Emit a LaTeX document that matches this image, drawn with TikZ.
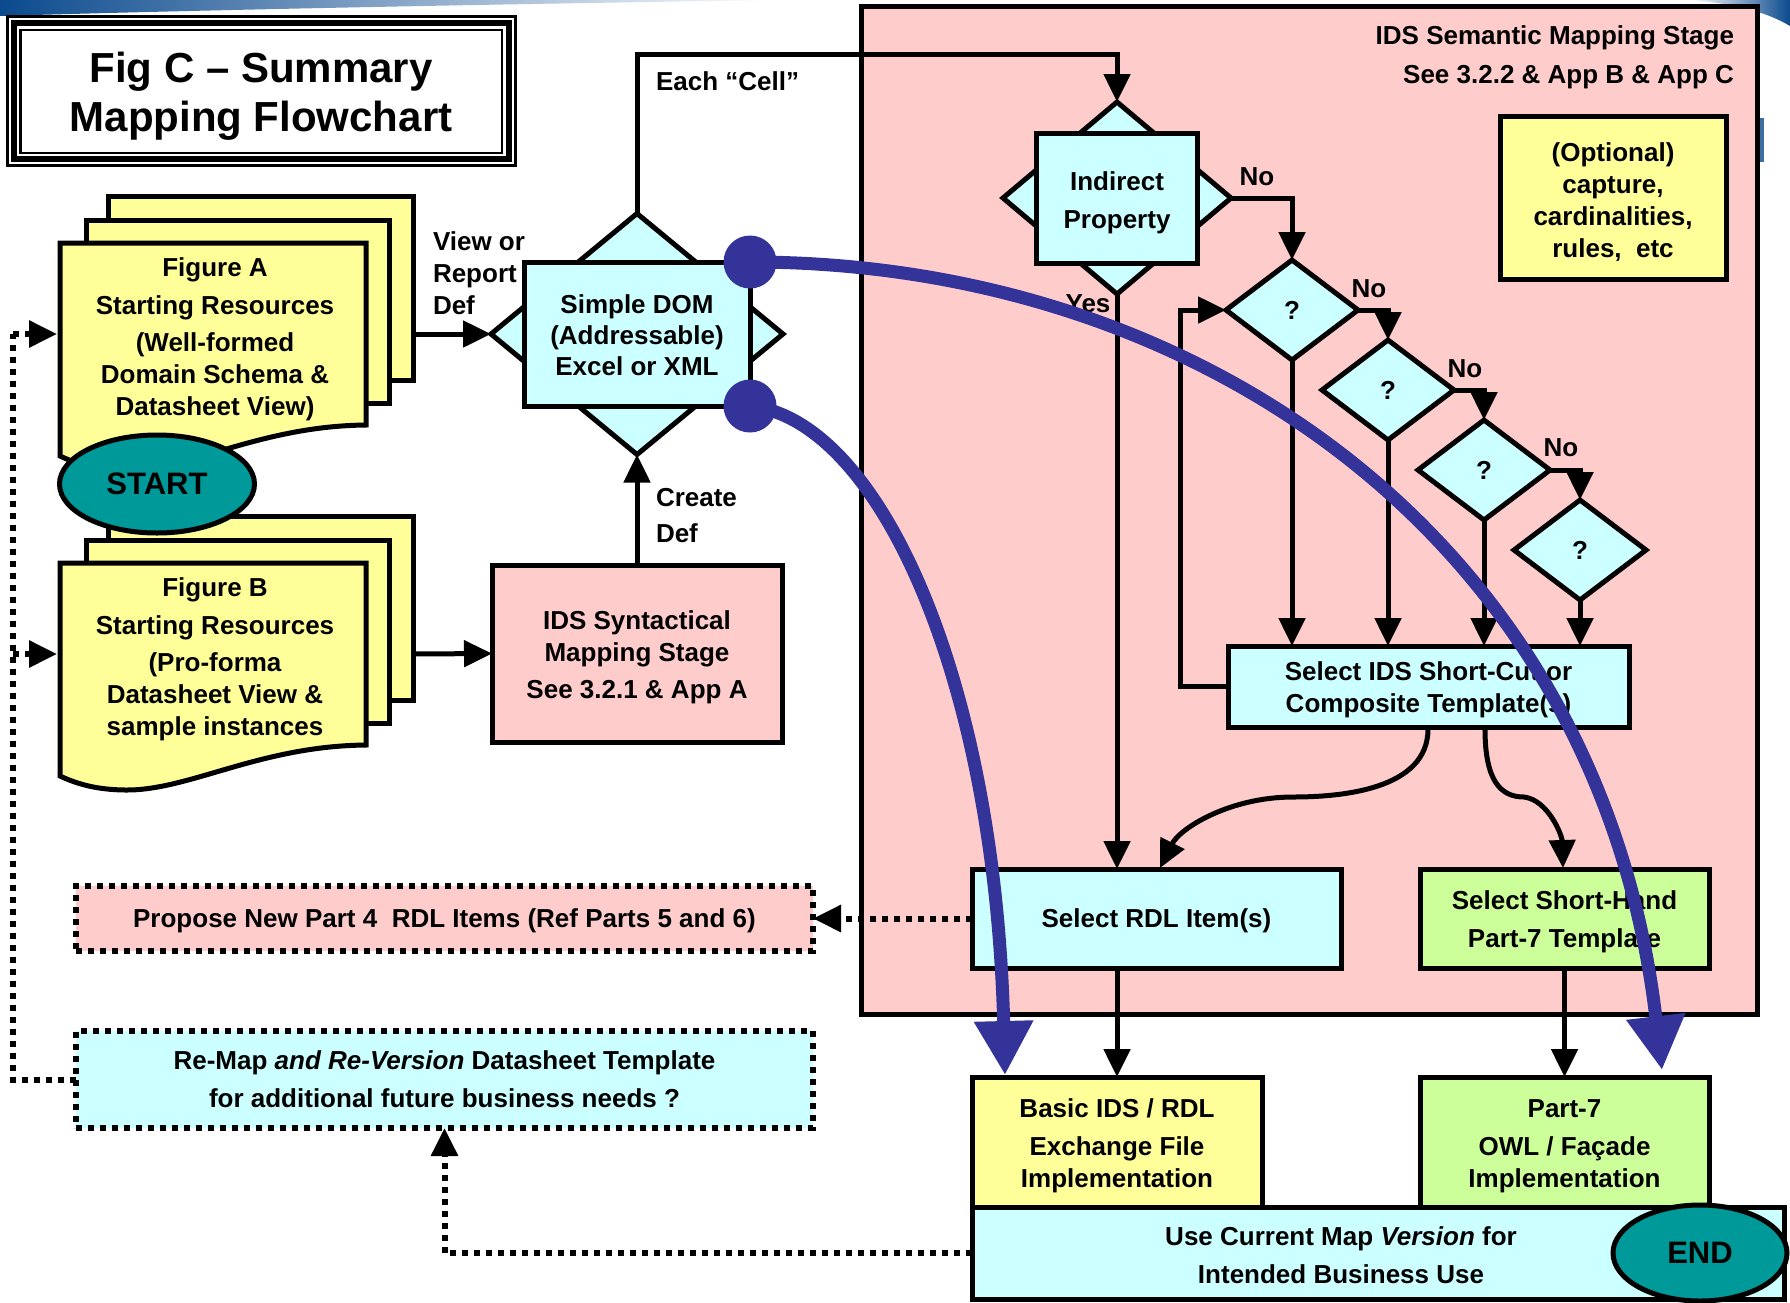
\documentclass[tikz,border=0pt]{standalone}
\usepackage{fontspec}
\setmainfont{Liberation Sans}
\usetikzlibrary{arrows.meta,shapes.geometric}
\definecolor{cyanf}{HTML}{CCFFFF}
\definecolor{yelf}{HTML}{FFFF99}
\definecolor{pinkf}{HTML}{FFCCCC}
\definecolor{greenf}{HTML}{CCFF99}
\definecolor{tealf}{HTML}{009999}
\definecolor{bluec}{HTML}{333399}
\definecolor{bannerblue}{HTML}{0B4A8E}
\newcommand\myst[1]{\rule{0pt}{#1pt}}
\begin{document}
\begin{tikzpicture}[x=1pt,y=-1pt,
  every node/.style={inner sep=0pt, outer sep=0pt},
  txt/.style={font=\fontsize{26}{32}\selectfont\bfseries, align=center},
  bx/.style={draw, line width=5pt, rectangle, txt},
  dia/.style={draw, line width=5pt, diamond, fill=cyanf, inner sep=0pt},
  tip/.style={-{Triangle[length=28pt,width=26pt]}},
  arr/.style={line width=5pt, tip},
  dotln/.style={line width=6pt, dash pattern=on 6pt off 6pt},
  dotbox/.style={draw, line width=6pt, dash pattern=on 6pt off 6pt, rectangle, txt},
  sheet/.style={draw, line width=5pt, fill=yelf, line join=miter},
  oval/.style={draw, line width=5pt, ellipse, fill=tealf, font=\fontsize{31}{31}\selectfont\bfseries},
  bluearr/.style={draw=bluec, line width=13pt, -{Triangle[length=54pt,width=56pt]}},
  bluedot/.style={circle, fill=bluec, minimum size=53pt}
]
\useasboundingbox (0,0) rectangle (1790,1302);
\fill[white] (0,0) rectangle (1790,1302);

% slide banner swoosh
\shade[left color=bannerblue, right color=white]
  (0,0) -- (780,0) .. controls (500,4) and (200,10) .. (0,16) -- cycle;
\shade[left color=white, right color=bannerblue]
  (1690,0) -- (1790,0) -- (1790,26) .. controls (1770,14) and (1740,4) .. (1690,0) -- cycle;
\fill[bannerblue!80] (1758,118) rectangle (1764,162);

% title
\draw[line width=3pt] (7,16) rectangle (515,165);
\draw[line width=6pt] (14,23) rectangle (509,159);
\draw[line width=2.5pt] (20.5,30) rectangle (502,153);
\node[font=\fontsize{42}{49}\selectfont\bfseries, align=center] (title) at (261,96.5)
  {Fig C -- Summary\\Mapping Flowchart};

% semantic stage container
\node[draw, line width=5pt, fill=pinkf, minimum width=896pt, minimum height=1008pt] (sem) at (1309,510) {};
\node[txt, anchor=east, font=\fontsize{26}{39}\selectfont\bfseries, align=right] (semlbl) at (1734,57.5)
  {IDS Semantic Mapping Stage\\See 3.2.2 \& App B \& App C};

% Figure B stack
\draw[sheet] (108,516) rectangle (413,700);
\draw[sheet] (86,540) rectangle (389,723);
\draw[sheet] (60,563) -- (366,563) -- (366,745) .. controls (260,746) and (190,790) .. (127,790)
  .. controls (95,790) and (75,783) .. (60,776) -- cycle;
\node[txt] (figB) at (215,659) {Figure B\\[6pt]Starting Resources\\[5pt](Pro-forma\\Datasheet View \&\\sample instances};
\coordinate (docBin) at (57,654);
\coordinate (docBout) at (413,654);

% Figure A stack
\draw[sheet] (108,196) rectangle (413,380);
\draw[sheet] (86,220) rectangle (389,403);
\draw[sheet] (60,243) -- (366,243) -- (366,425) .. controls (260,426) and (190,470) .. (127,470)
  .. controls (95,470) and (75,463) .. (60,456) -- cycle;
\node[txt] (figA) at (215,339) {Figure A\\[6pt]Starting Resources\\[5pt](Well-formed\\Domain Schema \&\\Datasheet View)};
\coordinate (docAin) at (57,334);
\coordinate (docAout) at (413,334);

\node[oval, minimum width=195pt, minimum height=98pt] (start) at (157,484) {START};

% Simple DOM
\node[dia, minimum width=292pt, minimum height=241pt] (domd) at (637,334) {};
\node[bx, fill=cyanf, minimum width=226pt, minimum height=144pt, font=\fontsize{26}{31}\selectfont\bfseries] (dom) at (637,334)
  {\myst{22}Simple DOM\\(Addressable)\\Excel or XML};

% IDS syntactical
\node[bx, fill=pinkf, minimum width=290pt, minimum height=177pt] (syn) at (637,653.5)
  {\myst{26}IDS Syntactical\\Mapping Stage\\[5pt]See 3.2.1 \& App A};

% labels left
\node[txt, anchor=west, align=left] (viewlbl) at (433,273) {View or\\Report\\Def};
\node[txt, anchor=west, align=left, font=\fontsize{26}{36}\selectfont\bfseries] (createlbl) at (656,516) {Create\\Def};
\node[txt, anchor=west] (celllbl) at (656,81) {Each “Cell”};

% optional box
\node[bx, fill=yelf, minimum width=226pt, minimum height=163pt] (opt) at (1613,197.5)
  {\myst{28}(Optional)\\capture,\\cardinalities,\\rules,\ \ etc};

% Indirect property
\node[dia, minimum width=228pt, minimum height=192pt] (indd) at (1117,198) {};
\node[bx, fill=cyanf, minimum width=161pt, minimum height=130pt, font=\fontsize{26}{38}\selectfont\bfseries] (ind) at (1117,198)
  {\myst{28}Indirect\\Property};

% question diamonds
\node[dia, minimum width=132pt, minimum height=100pt, txt] (q1) at (1292,310) {?};
\node[dia, minimum width=132pt, minimum height=100pt, txt] (q2) at (1388,390) {?};
\node[dia, minimum width=132pt, minimum height=100pt, txt] (q3) at (1484,470) {?};
\node[dia, minimum width=132pt, minimum height=100pt, txt] (q4) at (1580,550) {?};

\node[txt] (no0) at (1257,177) {No};
\node[txt] (no1) at (1369,289) {No};
\node[txt] (no2) at (1465,369) {No};
\node[txt] (no3) at (1561,448) {No};
\node[txt] (yes) at (1088,304) {Yes};

% template boxes
\node[bx, fill=cyanf, minimum width=401pt, minimum height=81pt] (sic) at (1428.5,686.5)
  {\myst{25}Select IDS Short-Cut or\\Composite Template(s)};
\node[bx, fill=cyanf, minimum width=369pt, minimum height=99pt] (rdl) at (1156.5,918.5)
  {\myst{23}Select RDL Item(s)};
\node[bx, fill=greenf, minimum width=289pt, minimum height=99pt, font=\fontsize{26}{38}\selectfont\bfseries] (ssh) at (1564.5,918.5)
  {\myst{25}Select Short-Hand\\Part-7 Template};

% bottom boxes
\node[bx, fill=yelf, minimum width=290pt, minimum height=130pt] (basic) at (1117,1142)
  {\myst{26}Basic IDS / RDL\\[6pt]Exchange File\\Implementation};
\node[bx, fill=greenf, minimum width=289pt, minimum height=130pt] (p7) at (1564.5,1142)
  {\myst{26}Part-7\\[6pt]OWL / Façade\\Implementation};
\node[bx, fill=cyanf, minimum width=812pt, minimum height=92pt] (use) at (1378,1253) {};
\node[txt, font=\fontsize{26}{38}\selectfont\bfseries] (usetxt) at (1341,1255)
  {Use Current Map \textit{Version} for\\Intended Business Use};
\node[oval, minimum width=174pt, minimum height=96pt] (end) at (1700,1253) {END};

% dotted boxes
\node[dotbox, fill=pinkf, minimum width=737pt, minimum height=65pt] (prop) at (444.5,918.5)
  {\myst{23}Propose New Part 4\ \ RDL Items (Ref Parts 5 and 6)};
\node[dotbox, fill=cyanf, minimum width=737pt, minimum height=97pt, font=\fontsize{26}{38}\selectfont\bfseries] (remap) at (444.5,1079.5)
  {Re-Map \textit{and Re-Version} Datasheet Template\\for additional future business needs ?};

% solid connectors
\draw[arr] (docAout) -- (domd.west);
\draw[arr] (docBout) -- (syn.west);
\draw[arr] (syn.north) -- (domd.south);
\draw[arr] (domd.north) |- (760,54) -| (indd.north);
\draw[arr] (indd.east) -| (q1.north);
\draw[arr] (q1.east) -| (q2.north);
\draw[arr] (q2.east) -| (q3.north);
\draw[arr] (q3.east) -| (q4.north);
\draw[arr] (q1.south) -- (q1.south |- sic.north);
\draw[arr] (q2.south) -- (q2.south |- sic.north);
\draw[arr] (q3.south) -- (q3.south |- sic.north);
\draw[arr] (q4.south) -- (q4.south |- sic.north);
\draw[arr] (sic.west) -- ++(-48,0) |- (q1.west);
\draw[arr] (indd.south) -- (indd.south |- rdl.north);
\draw[arr] (1428,729) .. controls (1428,790) and (1340,797) .. (1293,797)
  .. controls (1230,797) and (1180,828) .. (1160,868);
\draw[arr] (1485,729) .. controls (1485,780) and (1500,797) .. (1524,797)
  .. controls (1548,800) and (1562,835) .. (1563,868);
\draw[arr] (rdl.south -| basic.north) -- (basic.north);
\draw[arr] (ssh.south) -- (p7.north);

% dotted connectors
\coordinate (dl) at (13,334);
\coordinate (dlb) at (13,654);
\draw[dotln] (remap.west) -| (dl);
\draw[dotln, tip] (dl) -- (docAin);
\draw[dotln, tip] (dlb) -- (docBin);
\draw[dotln, tip] (rdl.west) -- (prop.east);
\draw[dotln, tip] (use.west) -| (remap.south);

% blue overlay arrows
\node[bluedot] (bd1) at (750,262) {};
\node[bluedot] (bd2) at (750,406) {};
\draw[bluearr] (bd1.center) .. controls (1200,262) and (1600,540) .. (1662,1070);
\draw[bluearr] (bd2.center) .. controls (880,420) and (995,680) .. (1005,1075);
\end{tikzpicture}
\end{document}
